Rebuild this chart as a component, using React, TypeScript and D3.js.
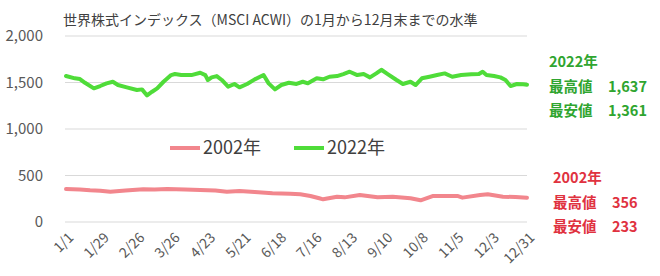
import React, { useEffect, useRef } from 'react'
import * as d3 from 'd3'

// MSCI ACWI level, Jan 1 to Dec 31 (2002 vs 2022)
const title = '世界株式インデックス（MSCI ACWI）の1月から12月末までの水準'
const yTicks = [0, 500, 1000, 1500, 2000]
const xLabels = ['1/1', '1/29', '2/26', '3/26', '4/23', '5/21', '6/18', '7/16', '8/13', '9/10', '10/8', '11/5', '12/3', '12/31']
const xLabelDays = [0, 28, 56, 84, 112, 140, 168, 196, 224, 252, 280, 308, 336, 364]

// day offset from Jan 1, index level
const days2022 = [0, 7, 11, 15, 22, 27, 32, 37, 41, 48, 56, 60, 64, 68, 72, 77, 83, 86, 91, 99, 106, 110, 112, 115, 119, 123, 128, 133, 137, 143, 149, 156, 160, 165, 170, 176, 182, 187, 191, 198, 203, 208, 214, 219, 224, 230, 235, 240, 245, 249, 254, 261, 266, 272, 276, 281, 287, 293, 299, 305, 312, 320, 326, 329, 332, 338, 343, 347, 351, 356, 361, 364]
const values2022 = [1570, 1545, 1537, 1497, 1437, 1462, 1491, 1508, 1473, 1448, 1419, 1426, 1361, 1401, 1437, 1508, 1580, 1591, 1580, 1580, 1605, 1580, 1527, 1555, 1569, 1527, 1455, 1484, 1448, 1484, 1534, 1580, 1491, 1426, 1473, 1497, 1484, 1508, 1491, 1545, 1534, 1562, 1569, 1591, 1616, 1580, 1591, 1555, 1598, 1637, 1591, 1527, 1484, 1508, 1473, 1545, 1562, 1580, 1598, 1562, 1580, 1588, 1591, 1616, 1580, 1569, 1555, 1527, 1462, 1484, 1480, 1475]

const days2002 = [0, 11, 19, 27, 35, 47, 61, 70, 80, 94, 106, 118, 127, 137, 149, 163, 177, 185, 193, 200, 203, 214, 220, 232, 246, 258, 272, 280, 290, 309, 313, 327, 333, 345, 355, 364]
const values2002 = [355, 350, 342, 337, 326, 338, 352, 350, 356, 350, 344, 338, 326, 333, 322, 308, 305, 298, 280, 255, 244, 272, 265, 290, 265, 272, 255, 233, 280, 280, 262, 290, 298, 272, 268, 261]

const seriesNames = ['2002年', '2022年']
const statLabels = ['最高値', '最安値']
const stats2022 = ['1,637', '1,361']
const stats2002 = ['356', '233']

export default function App() {
  const ref = useRef<SVGSVGElement>(null)

  useEffect(() => {
    const svg = d3.select(ref.current)
    svg.selectAll('*').remove()

    const left = 66, right = 527, top = 36, bottom = 222
    const font = '"Noto Sans CJK JP", "Noto Sans", sans-serif'
    const red = '#f2868d'
    const green = '#4fdc39'

    const x = d3.scaleLinear().domain([0, 364]).range([left, right])
    const y = d3.scaleLinear().domain([0, 2000]).range([bottom, top])

    // grid lines
    svg.append('g')
      .selectAll('line')
      .data(yTicks)
      .join('line')
      .attr('x1', left - 1)
      .attr('x2', right)
      .attr('y1', d => y(d))
      .attr('y2', d => y(d))
      .attr('stroke', '#d9d9d9')
      .attr('stroke-width', 1)

    // y labels
    svg.append('g')
      .selectAll('text')
      .data(yTicks)
      .join('text')
      .attr('x', 43)
      .attr('y', d => y(d))
      .attr('dy', '0.35em')
      .attr('text-anchor', 'end')
      .attr('font-family', font)
      .attr('font-size', 15)
      .attr('fill', '#595959')
      .text(d => d3.format(',')(d))

    // x labels, rotated
    svg.append('g')
      .selectAll('text')
      .data(xLabels)
      .join('text')
      .attr('transform', (d, i) => 'translate(' + (x(xLabelDays[i]) + 5) + ',' + (bottom + 13) + ') rotate(-45)')
      .attr('text-anchor', 'end')
      .attr('dy', '0.35em')
      .attr('font-family', font)
      .attr('font-size', 14)
      .attr('fill', '#595959')
      .text(d => d)

    // title
    svg.append('text')
      .attr('x', 63)
      .attr('y', 25)
      .attr('font-family', font)
      .attr('font-size', 14)
      .attr('fill', '#404040')
      .text(title)

    const line = d3.line<[number, number]>()
      .x(d => x(d[0]))
      .y(d => y(d[1]))

    const pts2002: [number, number][] = days2002.map((d, i) => [d, values2002[i]])
    const pts2022: [number, number][] = days2022.map((d, i) => [d, values2022[i]])

    svg.append('path')
      .datum(pts2002)
      .attr('d', line)
      .attr('fill', 'none')
      .attr('stroke', red)
      .attr('stroke-width', 4)
      .attr('stroke-linejoin', 'round')
      .attr('stroke-linecap', 'round')

    svg.append('path')
      .datum(pts2022)
      .attr('d', line)
      .attr('fill', 'none')
      .attr('stroke', green)
      .attr('stroke-width', 4)
      .attr('stroke-linejoin', 'round')
      .attr('stroke-linecap', 'round')

    // legend
    const legend = [
      { name: seriesNames[0], color: red, x: 170 },
      { name: seriesNames[1], color: green, x: 294 },
    ]
    const lg = svg.append('g')
    legend.forEach(l => {
      lg.append('line')
        .attr('x1', l.x)
        .attr('x2', l.x + 30)
        .attr('y1', 148)
        .attr('y2', 148)
        .attr('stroke', l.color)
        .attr('stroke-width', 4)
      lg.append('text')
        .attr('x', l.x + 33)
        .attr('y', 148)
        .attr('dy', '0.35em')
        .attr('font-family', font)
        .attr('font-size', 18)
        .attr('fill', '#404040')
        .text(l.name)
    })

    // high / low annotations
    const notes = [
      { name: seriesNames[1], vals: stats2022, color: '#2fa52f', x: 549, vx: 608, y: 67 },
      { name: seriesNames[0], vals: stats2002, color: '#e0323f', x: 553, vx: 612, y: 183 },
    ]
    notes.forEach(n => {
      const g = svg.append('g')
        .attr('font-family', font)
        .attr('font-size', 14.5)
        .attr('font-weight', 'bold')
        .attr('fill', n.color)
      g.append('text').attr('x', n.x).attr('y', n.y).text(n.name)
      statLabels.forEach((s, i) => {
        g.append('text').attr('x', n.x).attr('y', n.y + 24.5 * (i + 1)).text(s)
        g.append('text').attr('x', n.vx).attr('y', n.y + 24.5 * (i + 1)).text(n.vals[i])
      })
    })
  }, [])

  return (
    <svg
      ref={ref}
      width={660}
      height={276}
      style={{ position: 'absolute', left: 0, top: 0, background: '#fff' }}
    />
  )
}
